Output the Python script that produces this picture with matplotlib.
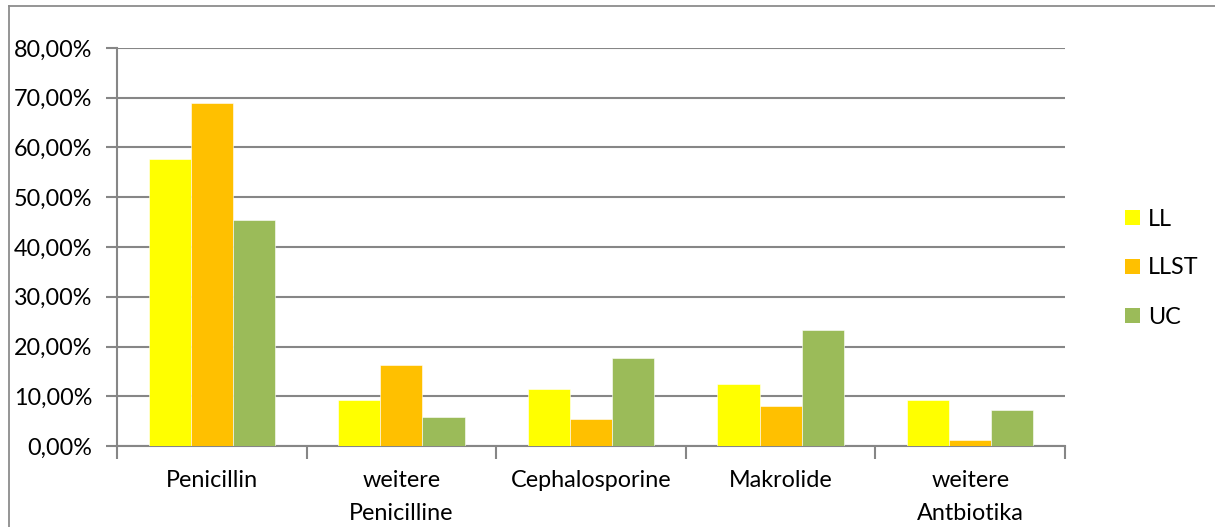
import matplotlib
matplotlib.use("Agg")
import matplotlib.pyplot as plt
import numpy as np
from matplotlib.lines import Line2D
from matplotlib.patches import Patch
from matplotlib.ticker import FuncFormatter

# values (percent)
categories = ["Penicillin", "weitere\nPenicilline", "Cephalosporine", "Makrolide", "weitere\nAntbiotika"]
series_names = ["LL", "LLST", "UC"]
ll = [57.7, 9.2, 11.4, 12.4, 9.2]
llst = [68.9, 16.2, 5.4, 8.0, 1.3]
uc = [45.5, 5.8, 17.7, 23.4, 7.3]
colors = ["#FFFF00", "#FFC000", "#9BBB59"]

plt.rcParams['font.family'] = ['Lato', 'DejaVu Sans']
fs = 16.8

W, H = 1215, 527
fig = plt.figure(figsize=(W / 100, H / 100), dpi=100)
# chart area border (left and top edges only visible)
border_c = "#8c8c8c"
fig.lines.append(Line2D([8.5 / W, 8.5 / W], [0, 1 - 5.5 / H], transform=fig.transFigure,
                        color=border_c, linewidth=1.3))
fig.lines.append(Line2D([8.5 / W, 1], [1 - 5.5 / H, 1 - 5.5 / H], transform=fig.transFigure,
                        color=border_c, linewidth=1.3))

ax = fig.add_axes([117 / W, 1 - 446 / H, (1065 - 117) / W, (446 - 48) / H])

grid_c = "#868686"
x = np.arange(len(categories))
w = 0.222
for i, (vals, name) in enumerate(zip([ll, llst, uc], series_names)):
    ax.bar(x + (i - 1) * w, vals, width=w, color=colors[i], label=name, zorder=3,
           edgecolor="white", linewidth=0.4)

ax.set_xlim(-0.5, len(categories) - 0.5)
ax.set_ylim(0, 80)
ax.set_yticks(np.arange(0, 81, 10))
ax.yaxis.set_major_formatter(FuncFormatter(lambda v, p: f"{v:.2f}%".replace(".", ",")))
ax.yaxis.grid(True, color=grid_c, linewidth=1.5, zorder=0)
ax.set_axisbelow(True)

ax.set_xticks(np.arange(-0.5, len(categories), 1.0))
ax.set_xticklabels([])
ax.set_xticks(x, minor=True)
ax.set_xticklabels(categories, minor=True, linespacing=1.7)
ax.tick_params(axis="x", which="major", direction="out", length=9, width=1.5, color=grid_c)
ax.tick_params(axis="x", which="minor", length=0, pad=17, labelsize=fs)
ax.tick_params(axis="y", direction="out", length=8, width=1.5, color=grid_c, labelsize=fs, pad=10)

for s in ["top", "right"]:
    ax.spines[s].set_visible(False)
for s in ["left", "bottom"]:
    ax.spines[s].set_color(grid_c)
    ax.spines[s].set_linewidth(1.5)

handles = [Patch(facecolor=c, label=n) for c, n in zip(colors, series_names)]
fig.legend(handles=handles, loc="center left", bbox_to_anchor=(1104 / W, 1 - 268 / H),
           frameon=False, fontsize=fs, handlelength=0.65, handleheight=0.65,
           handletextpad=0.35, labelspacing=1.2)

fig.savefig("out.png", dpi=100)
